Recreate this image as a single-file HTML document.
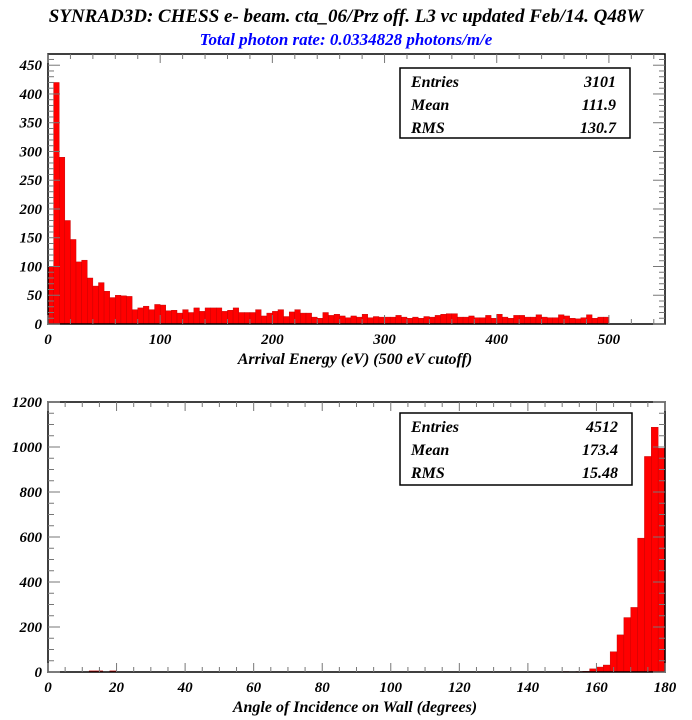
<!DOCTYPE html>
<html><head><meta charset="utf-8"><style>
html,body{margin:0;padding:0;background:#fff;}
svg{display:block;font-family:"Liberation Serif",serif;font-style:italic;font-weight:bold;}
</style></head><body>
<svg id="c" width="692" height="720" viewBox="0 0 692 720">
<text x="346" y="22" text-anchor="middle" font-size="19" fill="#000">SYNRAD3D: CHESS e- beam. cta_06/Prz off. L3 vc updated Feb/14. Q48W</text>
<text x="346" y="45" text-anchor="middle" font-size="17" fill="#0000ff">Total photon rate: 0.0334828 photons/m/e</text>
</svg>
<script>
const energyCounts=[100,420,290,180,147,108,111,80,66,72,57,46,50,49,48,25,28,31,25,34,33,23,24,19,25,20,28,22,28,28,28,22,24,28,20,20,20,25,14,19,22,25,13,21,25,19,19,12,10,20,15,17,14,11,14,12,17,11,13,12,12,12,15,12,10,12,10,13,12,15,17,18,18,12,12,14,11,11,15,10,17,12,10,15,15,12,12,16,12,11,11,16,14,10,9,11,16,10,12,12];
const energyTicks=[0,100,200,300,400,500];
const energyYTicks=[0,50,100,150,200,250,300,350,400,450];
const energyStats=[["Entries","3101"],["Mean","111.9"],["RMS","130.7"]];
const angleBins=[[12,14,5],[14,16,5],[18,20,5],[150,152,2],[154,156,2],[156,158,3],[158,160,14],[160,162,22],[162,164,31],[164,166,90],[166,168,165],[168,170,242],[170,172,287],[172,174,595],[174,176,958],[176,178,1088],[178,180,994]];
const angleTicks=[0,20,40,60,80,100,120,140,160,180];
const angleYTicks=[0,200,400,600,800,1000,1200];
const angleStats=[["Entries","4512"],["Mean","173.4"],["RMS","15.48"]];

const svg=document.getElementById('c');
const NS="http://www.w3.org/2000/svg";
function mk(tag,attrs,parent){const e=document.createElementNS(NS,tag);for(const k in attrs)e.setAttribute(k,attrs[k]);(parent||svg).appendChild(e);return e;}

function panel(p){
  const g=mk('g',{});
  
  
  const X=v=>p.x0+(v-p.xmin)/(p.xmax-p.xmin)*(p.x1-p.x0);
  const Y=v=>p.y0-(v/p.ymax)*(p.y0-p.y1);
  // bars
  let d='';
  p.bins.forEach(b=>{
    const r=mk('rect',{x:X(b[0]),y:Y(b[2]),width:X(b[1])-X(b[0]),height:p.y0-Y(b[2]),fill:'#ff0000',stroke:'#b00',"stroke-width":0.4},g);
    
    
  });
  // frame
  const f=mk('rect',{x:p.x0,y:p.y1,width:p.x1-p.x0,height:p.y0-p.y1,fill:'none',stroke:'#000',"stroke-width":1.5},g);
  
  
  // x ticks
  const minorX=(p.xTicks[1]-p.xTicks[0])/p.xMinor;
  for(let v=p.xmin;v<=p.xmax+1e-6;v+=minorX){
    const major=Math.abs((v-p.xmin)/(p.xTicks[1]-p.xTicks[0])-Math.round((v-p.xmin)/(p.xTicks[1]-p.xTicks[0])))<1e-6;
    const l=major?9:5;
    mk('line',{x1:X(v),x2:X(v),y1:p.y0,y2:p.y0-l,stroke:'#777'},g);
    mk('line',{x1:X(v),x2:X(v),y1:p.y1,y2:p.y1+l,stroke:'#777'},g);
  }
  p.xTicks.forEach(v=>{
    const t=mk('text',{x:X(v),y:p.y0+20,"text-anchor":"middle","font-size":15},g);
    t.textContent=v;
    
    
  });
  const minorY=(p.yTicks[1]-p.yTicks[0])/p.yMinor;
  for(let v=0;v<=p.ymax+1e-6;v+=minorY){
    const major=Math.abs(v/(p.yTicks[1]-p.yTicks[0])-Math.round(v/(p.yTicks[1]-p.yTicks[0])))<1e-6;
    const l=major?12:6;
    mk('line',{x1:p.x0,x2:p.x0+l,y1:Y(v),y2:Y(v),stroke:'#777'},g);
    mk('line',{x1:p.x1,x2:p.x1-l,y1:Y(v),y2:Y(v),stroke:'#777'},g);
  }
  p.yTicks.forEach(v=>{
    const t=mk('text',{x:p.x0-6,y:Y(v)+5,"text-anchor":"end","font-size":15},g);
    t.textContent=v;
    
    
  });
  const xt=mk('text',{x:p.titleX,y:p.y0+40,"text-anchor":"middle","font-size":16},g);
  xt.textContent=p.xTitle;
  
  
  // stats box
  const sb=mk('g',{},g);
  
  
  mk('rect',{x:p.sx,y:p.sy,width:p.sw,height:p.sh,fill:'#fff',stroke:'#000',"stroke-width":1.5},sb);
  p.stats.forEach((s,i)=>{
    const a=mk('text',{x:p.sx+11,y:p.sy+19+i*23,"font-size":16},sb);
    a.textContent=s[0];
    
    
    const b=mk('text',{x:p.sx+p.sw-14,y:p.sy+19+i*23,"text-anchor":"end","font-size":16},sb);
    b.textContent=s[1];
    
    
  });
}
panel({name:'energy-panel',x0:48,x1:665,y0:324,y1:54,xmin:0,xmax:550,ymax:469.5,
  bins:energyCounts.map((c,i)=>[i*5,i*5+5,c]),xTicks:energyTicks,xMinor:5,yTicks:energyYTicks,yMinor:5,
  xTitle:'Arrival Energy (eV) (500 eV cutoff)',titleX:355,stats:energyStats,sx:400,sy:68,sw:230,sh:70});
panel({name:'angle-panel',x0:48,x1:665,y0:672,y1:402,xmin:0,xmax:180,ymax:1200,
  bins:angleBins,xTicks:angleTicks,xMinor:4,yTicks:angleYTicks,yMinor:4,
  xTitle:'Angle of Incidence on Wall (degrees)',titleX:355,stats:angleStats,sx:400,sy:413,sw:232,sh:72});
</script>
</body></html>
